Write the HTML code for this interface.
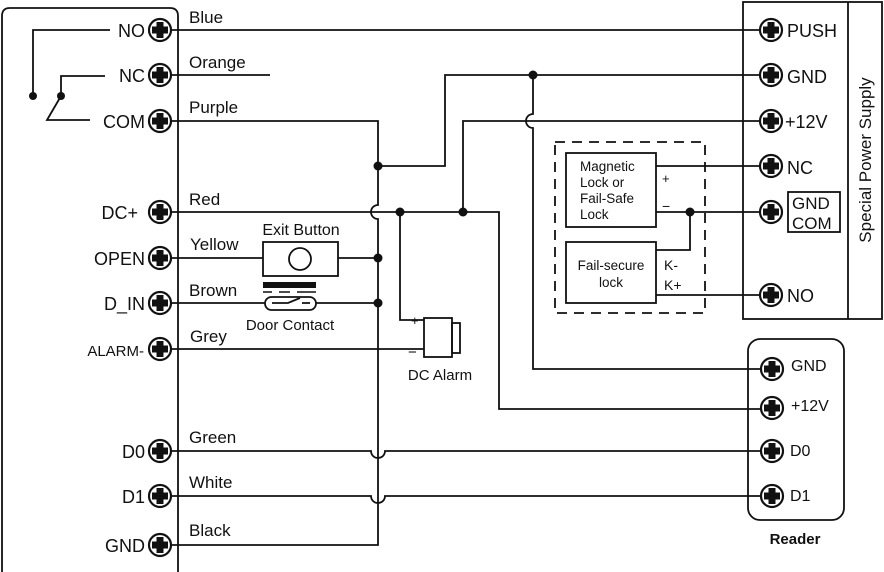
<!DOCTYPE html>
<html><head><meta charset="utf-8"><style>
html,body{margin:0;padding:0;background:#fff}
svg{display:block}
text{font-family:"Liberation Sans",sans-serif;fill:#111}
</style></head><body>
<svg width="884" height="572" viewBox="0 0 884 572" xmlns="http://www.w3.org/2000/svg">
<defs>
<g id="t"><circle r="11" fill="#fff" stroke="#111" stroke-width="2.2"/><rect x="-3.5" y="-8" width="7" height="16" fill="#111"/><rect x="-8" y="-3.5" width="16" height="7" fill="#111"/></g>
</defs>
<g fill="none" stroke="#111" stroke-width="1.8">
<path d="M178,580 V16 Q178,8 170,8 H10 Q2,8 2,16 V580"/>
<path d="M110,30 H33 V96"/>
<path d="M105,76 H61 V96"/>
<path d="M61,96 L47,120 H90"/>
<path d="M172,30 H760"/>
<path d="M172,75 H270"/>
<path d="M172,121 H378 V205 A7,7 0 0 0 378,219 V545 H172"/>
<path d="M378,166 H445 V75 H760"/>
<path d="M533,75 V114 A7,7 0 0 0 533,128 V369 H760"/>
<path d="M172,212 H499 V409 H760"/>
<path d="M463,212 V121 H760"/>
<path d="M400,212 V320 H424"/>
<path d="M172,258 H263 M338,258 H378"/>
<path d="M172,303 H378"/>
<path d="M172,349 H424"/>
<path d="M172,451 H371 A7,7 0 0 0 385,451 H760"/>
<path d="M172,496 H371 A7,7 0 0 0 385,496 H760"/>
<rect x="263" y="242" width="75" height="34"/>
<circle cx="300" cy="259" r="11"/>
<rect x="265" y="297" width="51" height="13" rx="6.5" fill="#fff"/>
<path d="M272,303 H288 L300,298 M302,303 H310"/>
<rect x="424" y="318" width="28" height="39" fill="#fff"/>
<rect x="452" y="323" width="8" height="30"/>
<rect x="743" y="2" width="139" height="317"/>
<path d="M848,2 V319"/>
<rect x="788" y="192" width="52" height="40"/>
<rect x="555" y="142" width="150" height="171" stroke-dasharray="10,7"/>
<rect x="566" y="153" width="90" height="74" fill="#fff"/>
<rect x="566" y="242" width="90" height="61" fill="#fff"/>
<path d="M656,166 H760 M656,212 H760 M690,212 V250 H656 M656,295 H760"/>
<rect x="748" y="339" width="96" height="181" rx="12"/>
</g>
<rect x="263" y="282" width="53" height="6" fill="#111"/>
<path d="M263,292 H272 M279,292 H290 M297,292 H316" stroke="#111" stroke-width="1.5"/>
<g fill="#111">
<circle cx="33" cy="96" r="4"/><circle cx="61" cy="96" r="4"/>
<circle cx="378" cy="166" r="4.5"/><circle cx="533" cy="75" r="4.5"/>
<circle cx="400" cy="212" r="4.5"/><circle cx="463" cy="212" r="4.5"/>
<circle cx="378" cy="258" r="4.5"/><circle cx="378" cy="303" r="4.5"/>
<circle cx="690" cy="212" r="4.5"/>
</g>
<use href="#t" x="160" y="30"/><use href="#t" x="160" y="75"/><use href="#t" x="160" y="121"/>
<use href="#t" x="160" y="212"/><use href="#t" x="160" y="258"/><use href="#t" x="160" y="303"/>
<use href="#t" x="160" y="349"/><use href="#t" x="160" y="451"/><use href="#t" x="160" y="496"/>
<use href="#t" x="160" y="545"/>
<use href="#t" x="771" y="30"/><use href="#t" x="771" y="75"/><use href="#t" x="771" y="121"/>
<use href="#t" x="771" y="166"/><use href="#t" x="771" y="212"/><use href="#t" x="771" y="295"/>
<use href="#t" x="772" y="369"/><use href="#t" x="772" y="408"/><use href="#t" x="772" y="451"/><use href="#t" x="772" y="496"/>
<g font-size="18" text-anchor="end">
<text x="145" y="37">NO</text><text x="145" y="82">NC</text><text x="145" y="128">COM</text>
<text x="138" y="219">DC+</text><text x="145" y="265">OPEN</text><text x="145" y="310">D_IN</text>
<text x="144" y="356" font-size="15">ALARM-</text><text x="145" y="458">D0</text><text x="145" y="503">D1</text>
<text x="145" y="552">GND</text>
</g>
<g font-size="17">
<text x="189" y="23">Blue</text><text x="189" y="68">Orange</text><text x="189" y="113">Purple</text>
<text x="189" y="205">Red</text><text x="190" y="250">Yellow</text><text x="189" y="296">Brown</text>
<text x="190" y="342">Grey</text><text x="189" y="443">Green</text><text x="189" y="488">White</text>
<text x="189" y="536">Black</text>
</g>
<text x="301" y="235" font-size="16" text-anchor="middle">Exit Button</text>
<text x="290" y="330" font-size="15" text-anchor="middle">Door Contact</text>
<text x="411" y="325" font-size="13">+</text>
<text x="408" y="357" font-size="15">−</text>
<text x="440" y="380" font-size="15" text-anchor="middle">DC Alarm</text>
<g font-size="18">
<text x="787" y="37">PUSH</text><text x="787" y="83">GND</text><text x="785" y="128">+12V</text>
<text x="787" y="174">NC</text><text x="787" y="302">NO</text>
<text x="792" y="209" font-size="17">GND</text><text x="792" y="229" font-size="17">COM</text>
</g>
<text transform="translate(871,160) rotate(-90)" font-size="17" text-anchor="middle">Special Power Supply</text>
<g font-size="13.5">
<text x="580" y="171">Magnetic</text><text x="580" y="187">Lock or</text><text x="580" y="203">Fail-Safe</text><text x="580" y="219">Lock</text>
</g>
<g font-size="13.5" text-anchor="middle">
<text x="611" y="270">Fail-secure</text><text x="611" y="287">lock</text>
</g>
<text x="662" y="183" font-size="13">+</text>
<text x="662" y="211" font-size="14">−</text>
<text x="664" y="270" font-size="14">K-</text>
<text x="664" y="290" font-size="14">K+</text>
<g font-size="16">
<text x="791" y="371">GND</text><text x="791" y="411">+12V</text><text x="790" y="456">D0</text><text x="790" y="501">D1</text>
</g>
<text x="795" y="544" font-size="15" font-weight="bold" text-anchor="middle">Reader</text>
</svg>
</body></html>
